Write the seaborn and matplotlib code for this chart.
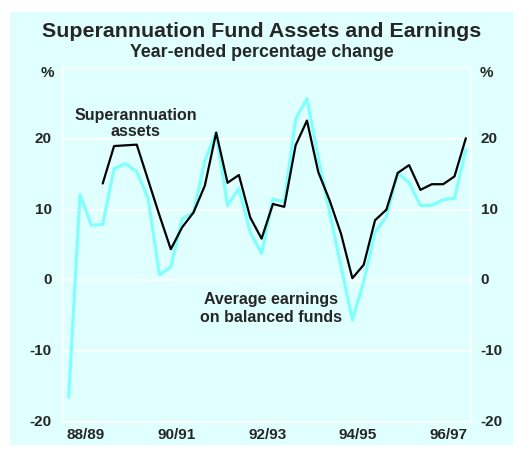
import numpy as np
import pandas as pd
import matplotlib
matplotlib.use("Agg")
import matplotlib.pyplot as plt
import seaborn as sns

sns.set_style("white")
plt.rcParams['font.family'] = ['Liberation Sans', 'DejaVu Sans']
plt.rcParams['font.weight'] = 'bold'

# Quarterly data, 88/89 Q1 .. 96/97 Q4 (year-ended % change)
earnings = [-16.5, 12.1, 7.8, 7.9, 15.8, 16.5, 15.4, 11.6, 0.8, 1.9,
            8.7, 9.6, 16.9, 20.9, 10.6, 13.0, 6.8, 3.8, 11.5, 11.1,
            22.8, 25.7, 17.3, 9.6, 2.0, -5.6, -0.2, 6.8, 9.0, 15.2,
            13.8, 10.6, 10.6, 11.4, 11.6, 18.5]
assets = [np.nan, np.nan, np.nan, 13.7, 19.0, 19.1, 19.2, 14.2, 9.2, 4.4,
          7.5, 9.6, 13.4, 20.9, 13.8, 14.9, 8.9, 5.9, 10.8, 10.4,
          19.1, 22.6, 15.3, 11.3, 6.6, 0.3, 2.2, 8.5, 10.0, 15.2,
          16.3, 12.8, 13.6, 13.6, 14.7, 20.1]
year_labels = ['88/89', '90/91', '92/93', '94/95', '96/97']
y_ticks = [-20, -10, 0, 10, 20]

bg = '#E0FFFF'
cyan = '#80FFFF'

df = pd.DataFrame({'q': np.arange(len(earnings)) + 0.5,
                   'earnings': earnings, 'assets': assets})

fig = plt.figure(figsize=(5.13, 4.49), dpi=100)
fig.patch.set_facecolor('white')

# light cyan panel behind everything
bg_ax = fig.add_axes([10 / 513, 4 / 449, 503 / 513, 433 / 449], zorder=-10)
bg_ax.set_facecolor(bg)
bg_ax.set_xticks([])
bg_ax.set_yticks([])
for s in bg_ax.spines.values():
    s.set_visible(False)

ax = fig.add_axes([63 / 513, 27.3 / 449, 408.5 / 513, 353.4 / 449])
ax.set_facecolor(bg)

sns.lineplot(data=df, x='q', y='earnings', ax=ax, color=cyan, linewidth=2.3)
sns.lineplot(data=df.dropna(), x='q', y='assets', ax=ax, color='black', linewidth=1.6)

ax.set_xlim(0, 36)
ax.set_ylim(-20, 30)
ax.set_xlabel('')
ax.set_ylabel('')

for y in y_ticks:
    ax.axhline(y, color='white', linewidth=1.2, zorder=0.5)

for s in ax.spines.values():
    s.set_color('white')
    s.set_linewidth(1.2)

ax.set_xticks(range(4, 36, 4))
ax.set_xticklabels([])
ax.tick_params(axis='x', direction='in', length=8, color='white', width=1.2)
ax.set_yticks([])

for i, lab in enumerate(year_labels):
    ax.text(2 + 8 * i, -20.9, lab, ha='center', va='top', fontsize=11,
            fontweight='bold', clip_on=False)

for y in y_ticks:
    ax.text(-1.0, y, str(y), ha='right', va='center', fontsize=11, fontweight='bold')
    ax.text(36.8, y, str(y), ha='left', va='center', fontsize=11, fontweight='bold')
ax.text(-1.4, 29.3, '%', ha='center', va='center', fontsize=11, fontweight='bold')
ax.text(37.3, 29.3, '%', ha='center', va='center', fontsize=11, fontweight='bold')

ax.text(6.4, 22.2, 'Superannuation\nassets', ha='center', va='center',
        fontsize=11.5, fontweight='bold', linespacing=1.15)
ax.text(18.3, -4.0, 'Average earnings\non balanced funds', ha='center',
        va='center', fontsize=11.5, fontweight='bold', linespacing=1.2)

fig.text(0.51, 0.929, 'Superannuation Fund Assets and Earnings', ha='center',
         va='center', fontsize=15.4, fontweight='bold')
fig.text(0.51, 0.884, 'Year-ended percentage change', ha='center',
         va='center', fontsize=12.8, fontweight='bold')

fig.savefig('out.png', dpi=100)
